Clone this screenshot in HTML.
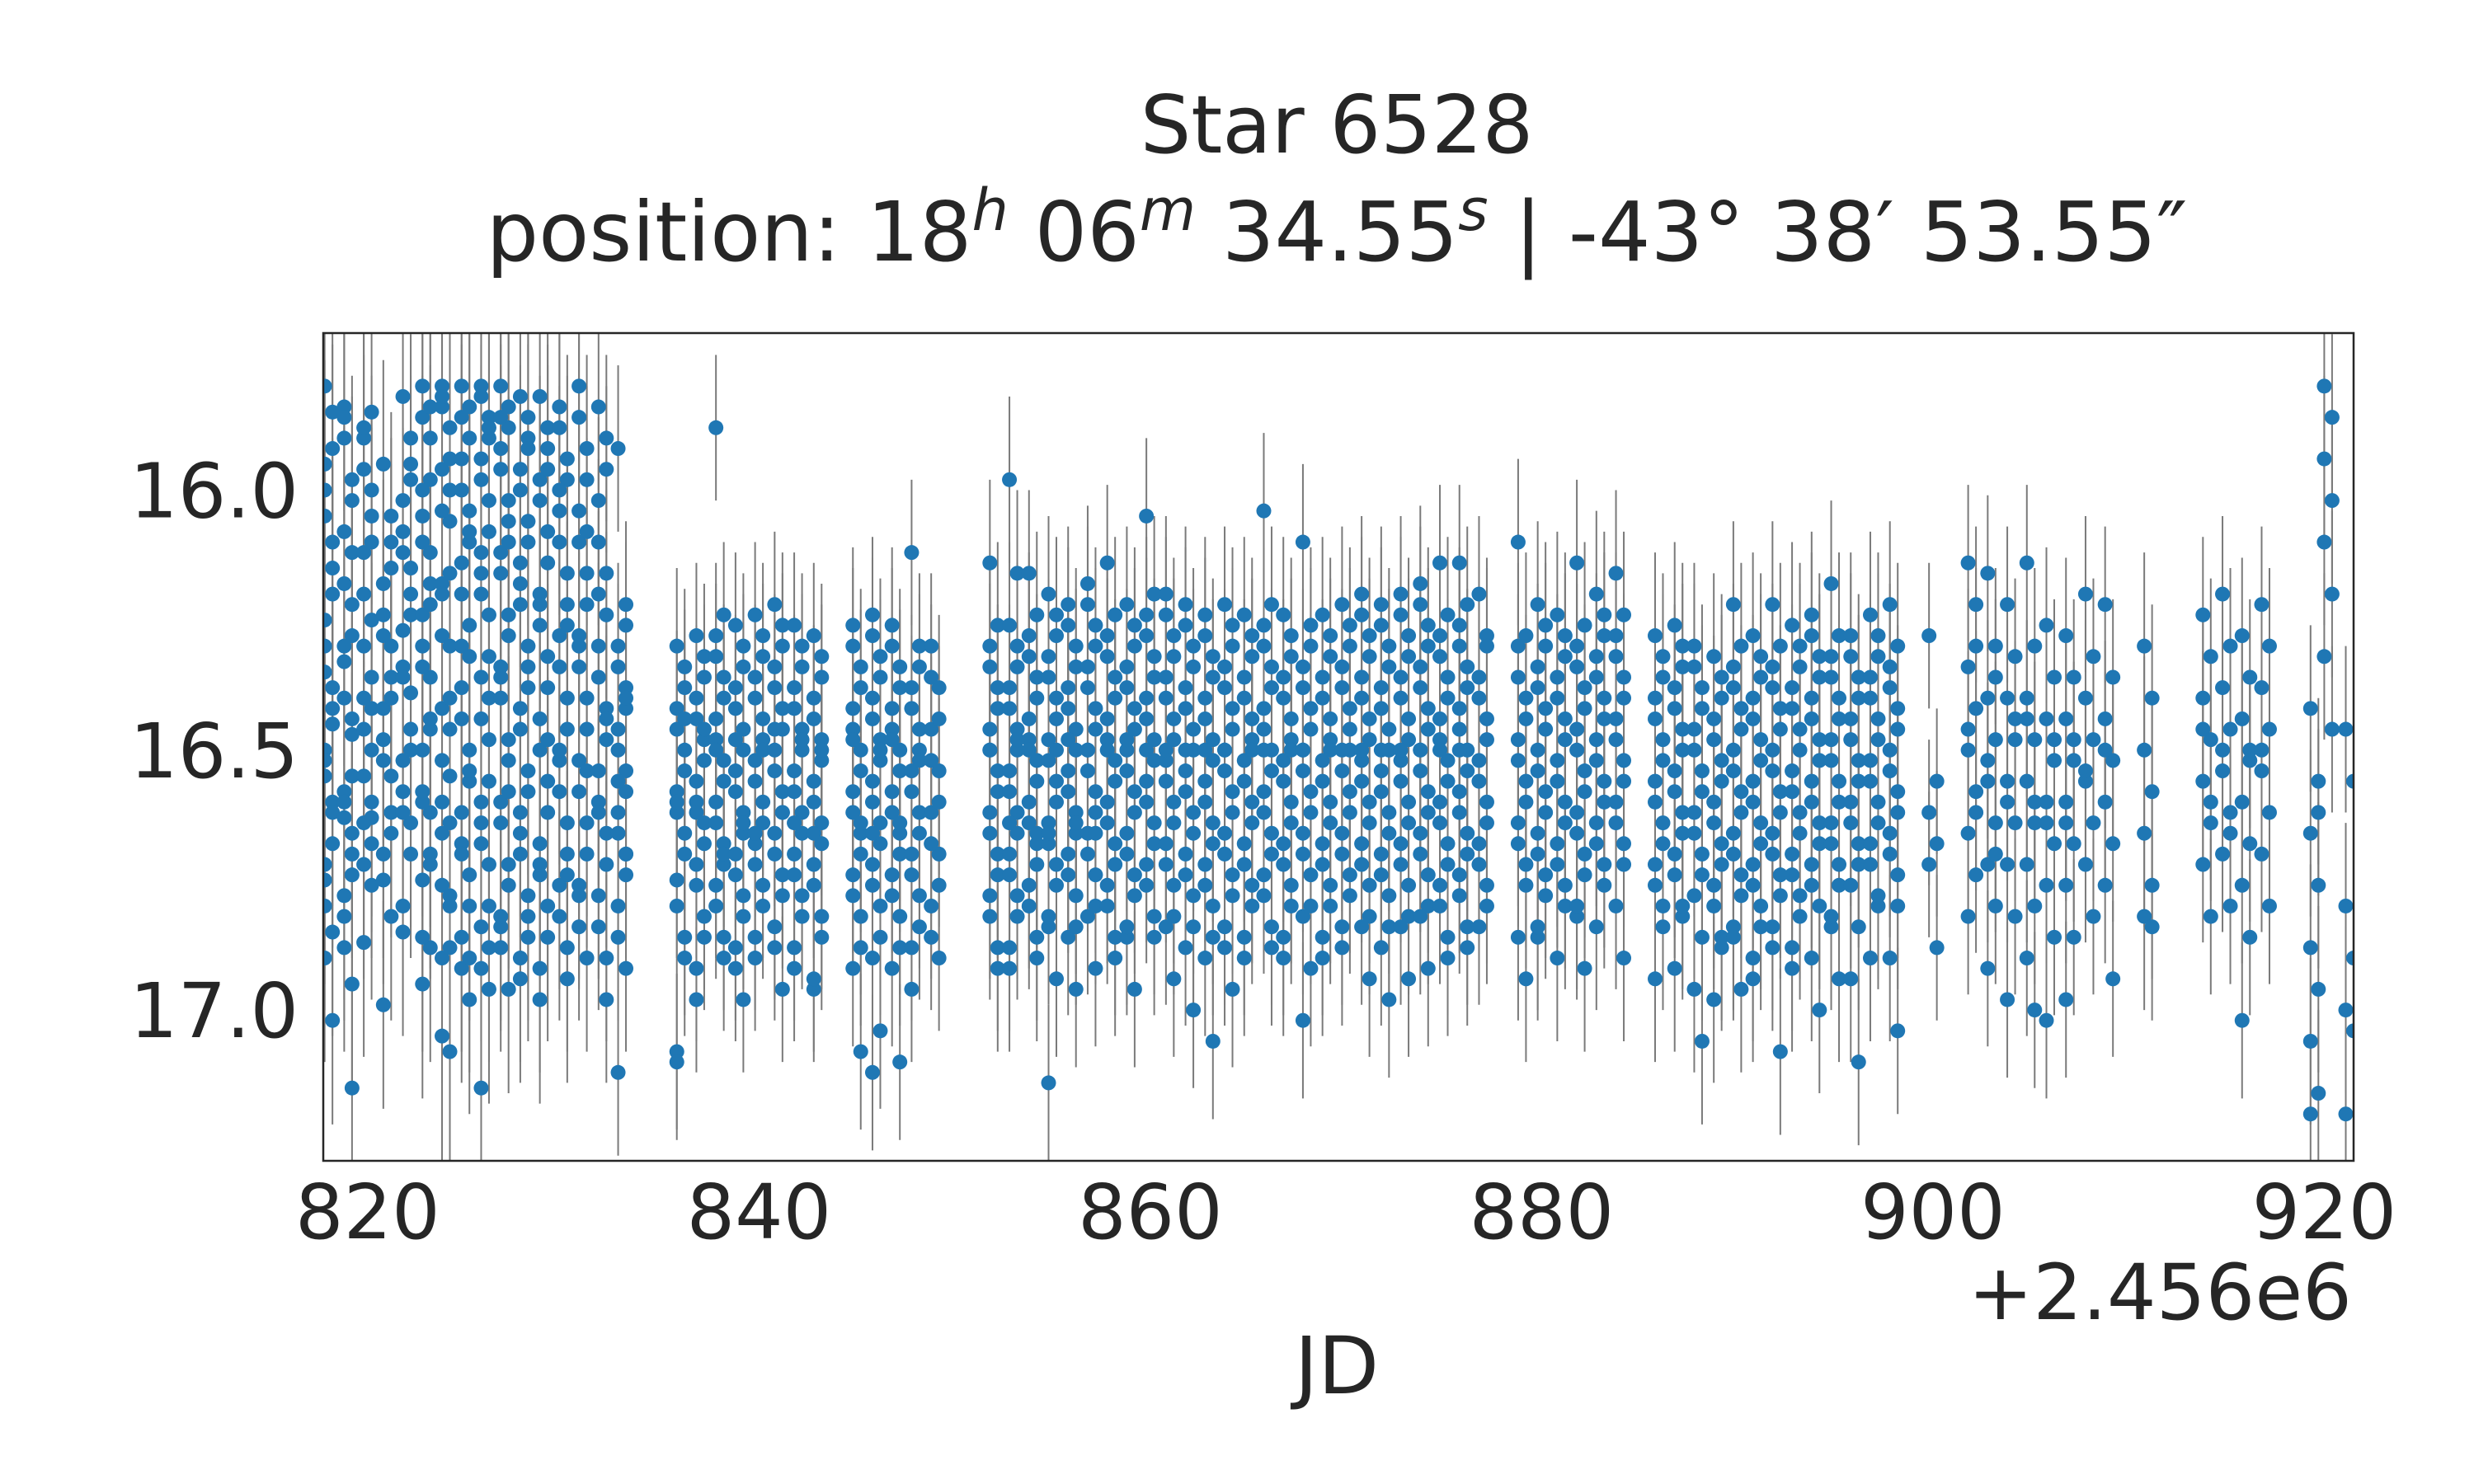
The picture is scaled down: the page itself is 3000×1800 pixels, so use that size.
<!DOCTYPE html>
<html><head><meta charset="utf-8">
<style>
html,body{margin:0;padding:0;background:#fff;}
svg{display:block;font-family:"DejaVu Sans","Liberation Sans",sans-serif;}
</style></head>
<body>
<svg id="chart" width="3000" height="1800" viewBox="0 0 3000 1800" xmlns="http://www.w3.org/2000/svg">
<rect width="3000" height="1800" fill="#fff"/>
<text x="1621" y="185" font-size="97" text-anchor="middle" fill="#262626">Star 6528</text>
<text x="1621" y="316" font-size="100" text-anchor="middle" fill="#262626">position: 18<tspan font-style="italic" font-size="70" dy="-37">h</tspan><tspan dy="37"> 06</tspan><tspan font-style="italic" font-size="70" dy="-37">m</tspan><tspan dy="37"> 34.55</tspan><tspan font-style="italic" font-size="70" dy="-37">s</tspan><tspan dy="37"> | -43° 38′ 53.55″</tspan></text>
<defs><clipPath id="plotclip"><rect x="392" y="404" width="2462" height="1004"/></clipPath></defs>
<g id="marks" clip-path="url(#plotclip)"></g>
<rect x="392" y="404" width="2462" height="1004" fill="none" stroke="#262626" stroke-width="2.5"/>
<g id="xticks"></g><g id="yticks"></g>
<text x="2852" y="1600" font-size="94" text-anchor="end" fill="#262626">+2.456e6</text>
<text x="1621" y="1690" font-size="96" text-anchor="middle" fill="#262626">JD</text>
</svg>
<script>
const xTicks=[820,840,860,880,900,920];
const yTicks=[16.0,16.5,17.0];
const yTickLabels=["16.0","16.5","17.0"];
const nightJD=[818,819,820,821,822,823,824,825,826,827,828,829,830,831,832,833,836,837,838,839,840,841,842,843,845,846,847,848,849,852,853,854,855,856,857,858,859,860,861,862,863,864,865,866,867,868,869,870,871,872,873,874,875,876,877,879,880,881,882,883,884,886,887,888,889,890,891,892,893,894,895,896,897,898,900,902,903,904,905,906,907,908,909,911,914,915,916,917,919.5,920.2,921.3];
const nightErr=[0.2,0.2,0.22,0.2,0.2,0.22,0.24,0.22,0.22,0.2,0.2,0.2,0.2,0.18,0.16,0.16,0.15,0.14,0.14,0.14,0.14,0.14,0.14,0.14,0.15,0.15,0.15,0.14,0.14,0.16,0.16,0.16,0.15,0.15,0.15,0.15,0.15,0.15,0.15,0.15,0.15,0.15,0.15,0.15,0.15,0.15,0.15,0.15,0.15,0.15,0.15,0.15,0.15,0.15,0.15,0.16,0.16,0.16,0.16,0.16,0.16,0.16,0.16,0.16,0.16,0.16,0.16,0.16,0.16,0.16,0.16,0.16,0.16,0.16,0.14,0.15,0.15,0.15,0.15,0.15,0.15,0.15,0.15,0.18,0.15,0.15,0.15,0.15,0.16,0.16,0.16];
const nightMags=[
"15.80 15.92 16.05 16.2 16.35 16.42 16.5 16.6 16.72 16.85 16.9 15.85 16.0 16.15 16.3 16.45 16.55 16.68 16.8 17.02 15.95 16.1 16.25 16.38 16.52 16.62 16.75",
"15.84 15.98 16.08 16.22 16.33 16.47 16.58 16.66 16.78 16.95 15.9 16.02 16.18 16.28 16.4 16.55 16.63 16.74 16.88 17.15 15.86 16.12 16.3 16.44 16.6 16.7 16.82",
"15.9 16.0 16.12 16.25 16.4 16.5 16.64 16.76 16.87 15.85 15.96 16.1 16.2 16.36 16.46 16.6 16.72 16.63 15.88 16.05 16.3 16.42 16.55 16.68",
"15.95 16.05 16.18 16.3 16.42 16.55 16.7 16.82 16.99 16.1 16.24 16.36 16.48 16.62 16.75 16.15 16.28 16.4 16.52 16.66",
"15.82 15.95 16.08 16.2 16.34 16.46 16.58 16.7 16.85 15.9 16.02 16.15 16.27 16.39 16.52 16.64 16.8 15.98 16.12 16.24 16.36 16.5 16.62",
"15.8 15.9 16.0 16.12 16.24 16.36 16.5 16.62 16.75 16.88 15.86 15.98 16.1 16.22 16.34 16.46 16.6 16.72 16.86 15.84 16.05 16.18 16.3 16.44 16.58 16.7 16.95",
"15.8 15.88 15.96 16.06 16.18 16.3 16.42 16.55 16.66 16.78 16.9 17.08 15.84 15.94 16.04 16.16 16.28 16.4 16.52 16.64 16.76 16.88 15.82 16.0 16.2 16.46 16.6 16.8 17.05",
"15.8 15.9 16.0 16.1 16.2 16.32 16.44 16.56 16.68 16.8 16.92 15.84 15.94 16.04 16.14 16.26 16.38 16.5 16.62 16.74 16.86 16.98 15.86 16.08 16.3 16.54 16.7 16.9",
"15.8 15.86 15.94 16.02 16.12 16.24 16.36 16.48 16.6 16.72 16.84 16.96 15.82 15.9 15.98 16.08 16.2 16.32 16.44 16.56 16.68 16.8 16.92 15.88 16.16 16.4 16.64 16.88 17.15",
"15.8 15.88 15.96 16.06 16.16 16.28 16.4 16.52 16.64 16.76 16.88 15.84 15.92 16.02 16.12 16.24 16.36 16.48 16.6 16.72 16.84 16.96 15.86 16.1 16.34 16.58 16.82",
"15.82 15.9 16.0 16.1 16.22 16.34 16.46 16.58 16.7 16.82 16.94 15.86 15.96 16.06 16.18 16.3 16.42 16.54 16.66 16.78 16.9 15.92 16.14 16.38 16.62 16.86",
"15.82 15.92 16.02 16.14 16.26 16.38 16.5 16.62 16.74 16.86 16.98 15.88 15.98 16.08 16.2 16.32 16.44 16.56 16.68 16.8 16.92 15.96 16.22 16.48 16.72",
"15.84 15.94 16.04 16.16 16.28 16.4 16.52 16.64 16.76 16.88 15.88 15.98 16.1 16.22 16.34 16.46 16.58 16.7 16.82 16.94 16.0 16.26 16.5 16.74",
"15.8 15.92 16.04 16.16 16.28 16.4 16.52 16.64 16.76 16.9 15.86 15.98 16.1 16.22 16.34 16.46 16.58 16.7 16.84 16.08 16.3 16.54 16.78",
"15.84 15.96 16.1 16.24 16.36 16.48 16.6 16.72 16.84 15.9 16.02 16.16 16.3 16.42 16.54 16.66 16.78 16.9 16.2 16.44 16.62 16.98",
"15.92 16.22 16.3 16.38 16.46 16.54 16.62 16.7 16.8 16.92 17.12 16.26 16.34 16.42 16.5 16.58 16.66 16.74 16.86 16.4 16.56 16.7",
"16.3 16.38 16.46 16.54 16.62 16.7 16.8 16.9 17.08 16.34 16.42 16.5 16.58 16.66 16.75 16.86 17.1 16.44 16.6",
"16.28 16.36 16.44 16.52 16.6 16.68 16.76 16.86 16.98 16.32 16.4 16.48 16.56 16.64 16.72 16.82 16.92 16.46 16.62",
"15.88 16.24 16.32 16.4 16.48 16.56 16.64 16.72 16.8 16.9 16.28 16.36 16.44 16.52 16.6 16.68 16.76 16.86 16.5 16.7",
"16.26 16.34 16.42 16.5 16.58 16.66 16.74 16.82 16.92 16.3 16.38 16.46 16.54 16.62 16.7 16.78 16.88 16.98 16.48 16.64",
"16.24 16.32 16.4 16.48 16.56 16.64 16.72 16.8 16.9 16.28 16.36 16.44 16.52 16.6 16.68 16.76 16.86 16.5 16.66",
"16.22 16.3 16.38 16.46 16.54 16.62 16.7 16.78 16.88 16.26 16.34 16.42 16.5 16.58 16.66 16.74 16.84 16.96 16.46 16.62",
"16.26 16.34 16.42 16.5 16.58 16.66 16.74 16.82 16.92 16.3 16.38 16.46 16.54 16.62 16.7 16.78 16.88 16.48 16.64",
"16.28 16.36 16.44 16.52 16.6 16.68 16.76 16.86 16.96 16.32 16.4 16.48 16.56 16.64 16.72 16.82 16.94 16.5 16.66",
"16.26 16.34 16.42 16.5 16.58 16.66 16.74 16.82 16.92 17.08 16.3 16.38 16.46 16.54 16.62 16.7 16.78 16.88 16.48 16.64",
"16.24 16.32 16.4 16.48 16.56 16.64 16.72 16.8 16.9 17.04 16.28 16.36 16.44 16.52 16.6 16.68 16.76 16.86 17.12 16.5 16.66",
"16.26 16.34 16.42 16.5 16.58 16.66 16.74 16.82 16.92 17.1 16.3 16.38 16.46 16.54 16.62 16.7 16.78 16.88 16.48 16.64",
"16.12 16.3 16.38 16.46 16.54 16.62 16.7 16.78 16.88 16.34 16.42 16.5 16.58 16.66 16.74 16.84 16.96 16.52",
"16.3 16.38 16.46 16.54 16.62 16.7 16.8 16.9 16.36 16.44 16.52 16.6 16.68 16.76 16.86",
"16.14 16.26 16.34 16.42 16.5 16.58 16.66 16.74 16.82 16.92 16.3 16.38 16.46 16.54 16.62 16.7 16.78 16.88 16.5",
"15.98 16.16 16.26 16.34 16.42 16.5 16.58 16.66 16.74 16.82 16.92 16.3 16.38 16.46 16.54 16.62 16.7 16.78 16.88 16.48 16.64",
"16.16 16.24 16.32 16.4 16.48 16.56 16.64 16.72 16.8 16.9 16.28 16.36 16.44 16.52 16.6 16.68 16.76 16.86 16.5 16.66",
"16.2 16.28 16.36 16.44 16.52 16.6 16.68 16.76 16.84 16.94 17.14 16.24 16.32 16.4 16.48 16.56 16.64 16.72 16.82 16.5 16.66",
"16.22 16.3 16.38 16.46 16.54 16.62 16.7 16.78 16.86 16.96 16.26 16.34 16.42 16.5 16.58 16.66 16.74 16.84 16.48 16.64",
"16.18 16.26 16.34 16.42 16.5 16.58 16.66 16.74 16.82 16.92 16.22 16.3 16.38 16.46 16.54 16.62 16.7 16.8 16.5 16.66",
"16.14 16.24 16.32 16.4 16.48 16.56 16.64 16.72 16.8 16.9 16.28 16.36 16.44 16.52 16.6 16.68 16.76 16.86 16.5",
"16.22 16.3 16.38 16.46 16.54 16.62 16.7 16.78 16.86 16.26 16.34 16.42 16.5 16.58 16.66 16.74 16.84 16.96 16.48",
"16.05 16.2 16.28 16.36 16.44 16.52 16.6 16.68 16.76 16.86 16.24 16.32 16.4 16.48 16.56 16.64 16.72 16.82 16.5",
"16.2 16.28 16.36 16.44 16.52 16.6 16.68 16.76 16.84 16.94 16.24 16.32 16.4 16.48 16.56 16.64 16.72 16.82 16.5",
"16.22 16.3 16.38 16.46 16.54 16.62 16.7 16.78 16.88 17.0 16.26 16.34 16.42 16.5 16.58 16.66 16.74 16.84 16.5",
"16.24 16.32 16.4 16.48 16.56 16.64 16.72 16.8 16.9 17.06 16.28 16.36 16.44 16.52 16.6 16.68 16.76 16.86 16.5",
"16.22 16.3 16.38 16.46 16.54 16.62 16.7 16.78 16.88 16.26 16.34 16.42 16.5 16.58 16.66 16.74 16.84 16.96 16.5",
"16.24 16.32 16.4 16.48 16.56 16.64 16.72 16.8 16.9 16.28 16.36 16.44 16.52 16.6 16.68 16.76 16.86 16.5",
"16.04 16.22 16.3 16.38 16.46 16.54 16.62 16.7 16.78 16.88 16.26 16.34 16.42 16.5 16.58 16.66 16.74 16.84 16.5",
"16.24 16.32 16.4 16.48 16.56 16.64 16.72 16.8 16.9 16.28 16.36 16.44 16.52 16.6 16.68 16.76 16.86 16.5",
"16.1 16.26 16.34 16.42 16.5 16.58 16.66 16.74 16.82 16.92 17.02 16.3 16.38 16.46 16.54 16.62 16.7 16.8 16.5",
"16.24 16.32 16.4 16.48 16.56 16.64 16.72 16.8 16.9 16.28 16.36 16.44 16.52 16.6 16.68 16.76 16.86 16.5",
"16.22 16.3 16.38 16.46 16.54 16.62 16.7 16.78 16.88 16.26 16.34 16.42 16.5 16.58 16.66 16.74 16.84 16.5",
"16.2 16.28 16.36 16.44 16.52 16.6 16.68 16.76 16.84 16.94 16.24 16.32 16.4 16.48 16.56 16.64 16.72 16.82 16.5",
"16.22 16.3 16.38 16.46 16.54 16.62 16.7 16.78 16.88 16.98 16.26 16.34 16.42 16.5 16.58 16.66 16.74 16.84 16.5",
"16.2 16.28 16.36 16.44 16.52 16.6 16.68 16.76 16.84 16.94 16.24 16.32 16.4 16.48 16.56 16.64 16.72 16.82 16.5",
"16.18 16.26 16.34 16.42 16.5 16.58 16.66 16.74 16.82 16.92 16.22 16.3 16.38 16.46 16.54 16.62 16.7 16.8 16.5",
"16.14 16.24 16.32 16.4 16.48 16.56 16.64 16.72 16.8 16.9 16.28 16.36 16.44 16.52 16.6 16.68 16.76 16.86 16.5",
"16.14 16.22 16.3 16.38 16.46 16.54 16.62 16.7 16.78 16.88 16.26 16.34 16.42 16.5 16.58 16.66 16.74 16.84 16.5",
"16.2 16.28 16.36 16.44 16.52 16.6 16.68 16.76 16.84 16.3 16.4 16.48 16.56 16.64 16.72 16.8",
"16.1 16.28 16.36 16.44 16.52 16.6 16.68 16.76 16.86 16.94 16.3 16.4 16.48 16.56 16.64 16.72",
"16.22 16.3 16.38 16.46 16.54 16.62 16.7 16.78 16.86 16.26 16.34 16.42 16.5 16.58 16.66 16.74 16.84",
"16.24 16.32 16.4 16.48 16.56 16.64 16.72 16.8 16.9 16.28 16.36 16.44 16.52 16.6 16.68 16.76",
"16.14 16.26 16.34 16.42 16.5 16.58 16.66 16.74 16.82 16.92 16.3 16.38 16.46 16.54 16.62 16.7 16.8",
"16.2 16.28 16.36 16.44 16.52 16.6 16.68 16.76 16.84 16.24 16.32 16.4 16.48 16.56 16.64 16.72",
"16.16 16.24 16.32 16.4 16.48 16.56 16.64 16.72 16.8 16.9 16.28 16.36 16.44 16.52 16.6 16.68",
"16.28 16.36 16.44 16.52 16.6 16.68 16.76 16.84 16.94 16.32 16.4 16.48 16.56 16.64 16.72 16.8",
"16.26 16.34 16.42 16.5 16.58 16.66 16.74 16.82 16.92 16.3 16.38 16.46 16.54 16.62 16.7 16.8",
"16.3 16.38 16.46 16.54 16.62 16.7 16.78 16.86 16.96 17.06 16.34 16.42 16.5 16.58 16.66 16.74",
"16.32 16.4 16.48 16.56 16.64 16.72 16.8 16.88 16.98 16.36 16.44 16.52 16.6 16.68 16.76 16.86",
"16.22 16.3 16.38 16.46 16.54 16.62 16.7 16.78 16.86 16.96 16.34 16.42 16.5 16.58 16.66 16.74 16.84",
"16.28 16.36 16.44 16.52 16.6 16.68 16.76 16.84 16.94 16.32 16.4 16.48 16.56 16.64 16.72 16.8 16.9",
"16.22 16.3 16.38 16.46 16.54 16.62 16.7 16.78 16.88 17.08 16.34 16.42 16.5 16.58 16.66 16.74 16.84",
"16.26 16.34 16.42 16.5 16.58 16.66 16.74 16.82 16.92 16.3 16.38 16.46 16.54 16.62 16.7 16.78 16.88",
"16.24 16.32 16.4 16.48 16.56 16.64 16.72 16.8 16.9 17.0 16.28 16.36 16.44 16.52 16.6 16.68 16.76",
"16.18 16.28 16.36 16.44 16.52 16.6 16.68 16.76 16.84 16.94 16.32 16.4 16.48 16.56 16.64 16.72 16.82",
"16.28 16.36 16.44 16.52 16.6 16.68 16.76 16.84 16.94 17.1 16.32 16.4 16.48 16.56 16.64 16.72",
"16.24 16.32 16.4 16.48 16.56 16.64 16.72 16.8 16.9 16.28 16.36 16.44 16.52 16.6 16.68 16.78",
"16.22 16.3 16.38 16.46 16.54 16.62 16.7 16.8 16.9 17.04 16.34 16.42 16.5 16.58 16.66 16.74",
"16.28 16.56 16.62 16.68 16.72 16.88",
"16.14 16.22 16.34 16.42 16.5 16.58 16.66 16.74 16.82 16.3 16.46 16.62",
"16.16 16.3 16.4 16.48 16.56 16.64 16.72 16.8 16.92 16.36 16.52 16.7",
"16.22 16.32 16.4 16.48 16.56 16.64 16.72 16.82 16.98 16.44 16.6",
"16.14 16.3 16.4 16.48 16.56 16.64 16.72 16.8 16.9 17.0 16.44 16.6",
"16.26 16.36 16.44 16.52 16.6 16.68 16.76 16.86 17.02 16.48 16.64",
"16.28 16.36 16.44 16.52 16.6 16.68 16.76 16.86 16.98 16.48 16.64",
"16.2 16.32 16.4 16.48 16.56 16.64 16.72 16.82 16.54",
"16.22 16.36 16.44 16.52 16.6 16.68 16.76 16.94 16.5",
"16.3 16.4 16.5 16.58 16.66 16.76 16.82 16.84",
"16.24 16.32 16.4 16.48 16.56 16.64 16.72 16.82 16.46 16.6",
"16.2 16.3 16.38 16.46 16.54 16.62 16.7 16.8 16.5 16.66",
"16.28 16.36 16.44 16.52 16.6 16.68 16.76 16.86 17.02 16.5",
"16.22 16.3 16.38 16.46 16.54 16.62 16.7 16.8 16.5",
"16.42 16.56 16.66 16.76 16.88 16.96 17.06 17.16 17.2 16.62",
"15.8 15.86 15.94 16.02 16.1 16.2 16.32 16.46",
"16.46 16.56 16.8 16.9 17.0 17.04 17.2"
];
const X0=817.73,X1=921.5,Y0=15.698,Y1=17.29;
const L=392,R=2854,T=404,B=1408;
const sx=v=>L+(v-X0)/(X1-X0)*(R-L);
const sy=v=>T+(v-Y0)/(Y1-Y0)*(B-T);
const NS="http://www.w3.org/2000/svg";
const marks=document.getElementById('marks');
const bars=document.createElementNS(NS,'g');


const pts=document.createElementNS(NS,'g');


marks.appendChild(bars);marks.appendChild(pts);
const subOff=[-0.2,0.2];
nightJD.forEach((jd,i)=>{
  const mags=nightMags[i].trim().split(/\s+/).map(Number);
  const e=nightErr[i];
  mags.forEach((m,k)=>{
    const t=jd+subOff[k%subOff.length];
    const x=sx(t);
    const ln=document.createElementNS(NS,'line');
    
    
    ln.setAttribute('x1',x);ln.setAttribute('x2',x);
    ln.setAttribute('y1',sy(m-e));ln.setAttribute('y2',sy(m+e));
    ln.setAttribute('stroke','#7a7a7a');ln.setAttribute('stroke-width','2');
    bars.appendChild(ln);
    const c=document.createElementNS(NS,'circle');
    
    
    c.setAttribute('cx',x);c.setAttribute('cy',sy(m));c.setAttribute('r','9');
    c.setAttribute('fill','#1f77b4');
    pts.appendChild(c);
  });
});
const xt=document.getElementById('xticks');
xTicks.forEach(v=>{
  const t=document.createElementNS(NS,'text');
  
  
  t.setAttribute('x',sx(v));t.setAttribute('y',1502);
  t.setAttribute('font-size','92');t.setAttribute('text-anchor','middle');t.setAttribute('fill','#262626');
  t.textContent=String(v);xt.appendChild(t);
});
const yt=document.getElementById('yticks');
yTicks.forEach((v,i)=>{
  const t=document.createElementNS(NS,'text');
  
  
  t.setAttribute('x',362);t.setAttribute('y',sy(v)+33);
  t.setAttribute('font-size','92');t.setAttribute('text-anchor','end');t.setAttribute('fill','#262626');
  t.textContent=yTickLabels[i];yt.appendChild(t);
});
</script>
</body></html>
